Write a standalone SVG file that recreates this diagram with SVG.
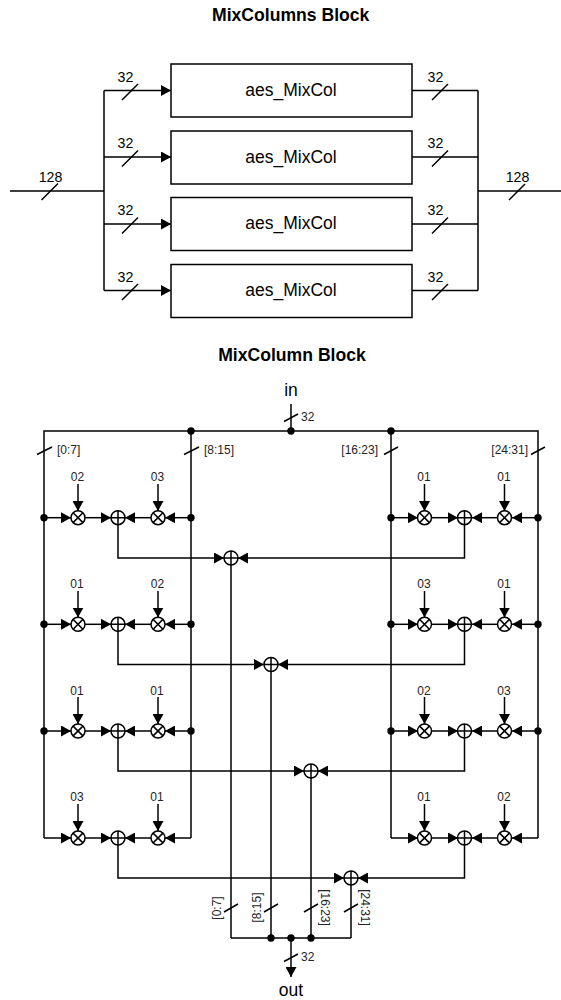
<svg xmlns="http://www.w3.org/2000/svg" width="561" height="1000" viewBox="0 0 561 1000">
<style>
text{font-family:"Liberation Sans",Arial,sans-serif;fill:#000;text-anchor:middle}
.t{font-weight:bold;font-size:17.6px}
.b{font-size:17.5px}
.w{font-size:14.2px}
.s{font-size:12px;fill:#222}
.e{text-anchor:end}
.st{text-anchor:start}
.l{fill:none;stroke:#000;stroke-width:1.5}
.a{marker-end:url(#h)}
.g{opacity:.99}
rect{fill:#fff;stroke:#000;stroke-width:1.5}
circle.j{fill:#000}
circle.o{fill:#fff;stroke:#000;stroke-width:1.5}
</style>
<defs>
<marker id="h" markerUnits="userSpaceOnUse" markerWidth="10" markerHeight="11" refX="10" refY="5.5" orient="auto"><path d="M0 0L10 5.5L0 11Z" fill="#000"/></marker>
<g id="mul"><circle class="o" r="7"/><path class="l" d="M-4.9-4.9L4.9 4.9M-4.9 4.9L4.9-4.9"/></g>
<g id="xor"><circle class="o" r="7"/><path class="l" d="M-7 0H7M0-7V7"/></g>
<g id="row"><path class="l a" d="M44 0H71"/><path class="l a" d="M85 0H111"/><path class="l a" d="M191 0H165"/><path class="l a" d="M151 0H125"/></g>
</defs>
<g class="g"><text class="t" x="290.700" y="20.500">MixColumns Block</text>
<text class="t" x="292" y="360.500">MixColumn Block</text></g>
<g id="connectors">
<path class="l" d="M10 191H104M104 90.500V290.500M478 90.500V290.500M412 90.500H478M412 157H478M412 224H478M412 290.500H478"/>
<path class="l a" d="M478 191H570.500"/>
<path class="l a" d="M104 90.500H171"/><path class="l a" d="M104 157H171"/><path class="l a" d="M104 224H171"/><path class="l a" d="M104 290.500H171"/>
<path class="l" d="M122 100L138 84M122 166.500L138 150.500M122 233.500L138 217.500M122 300L138 284M432 100L448 84M432 166.500L448 150.500M432 233.500L448 217.500M432 300L448 284M41.500 200L58 183.500M509 200L525 184"/>
<path class="l" d="M291 404V431M44 838V431H538V838M191 431V838M391 431V838"/>
<path class="l" d="M284 421.500L298 414M37 454.500L52 447M184 454.500L199 447M384 454.500L398 447M531 454.500L545 447"/>
<path class="l" d="M231 565V938M271 671.500V938M311 778V938M351 885V938M231 938H351"/>
<path class="l" d="M224 912L238 904M264 912L278 904M304 912L318 904M344 912L358 904M284 961.500L298 954"/>
<path class="l a" d="M291 938V977"/>
<path class="l a" d="M118 525V558H224"/><path class="l a" d="M464.500 525V558H238"/>
<path class="l a" d="M118 631V664.500H264"/><path class="l a" d="M464.500 631V664.500H278"/>
<path class="l a" d="M118 738V771H304"/><path class="l a" d="M464.500 738V771H318"/>
<path class="l a" d="M118 845V878H344"/><path class="l a" d="M464.500 845V878H358"/>
<use href="#row" y="517.700"/><use href="#row" y="624.300"/><use href="#row" y="731"/><use href="#row" y="838"/>
<use href="#row" x="347" y="517.700"/><use href="#row" x="347" y="624.300"/><use href="#row" x="347" y="731"/><use href="#row" x="347" y="838"/>
<path class="l a" d="M78 484V511"/><path class="l a" d="M158 484V511"/><path class="l a" d="M424.500 484V511"/><path class="l a" d="M504.500 484V511"/>
<path class="l a" d="M78 591V617.500"/><path class="l a" d="M158 591V617.500"/><path class="l a" d="M424.500 591V617.500"/><path class="l a" d="M504.500 591V617.500"/>
<path class="l a" d="M78 697V724"/><path class="l a" d="M158 697V724"/><path class="l a" d="M424.500 697V724"/><path class="l a" d="M504.500 697V724"/>
<path class="l a" d="M78 804V831"/><path class="l a" d="M158 804V831"/><path class="l a" d="M424.500 804V831"/><path class="l a" d="M504.500 804V831"/>
</g>
<g id="block1"><rect x="171" y="64" width="241" height="53"/><text class="b g" x="291" y="95.500">aes_MixCol</text></g>
<g id="block2"><rect x="171" y="131" width="241" height="53"/><text class="b g" x="291" y="162.500">aes_MixCol</text></g>
<g id="block3"><rect x="171" y="197.500" width="241" height="53"/><text class="b g" x="291" y="229">aes_MixCol</text></g>
<g id="block4"><rect x="171" y="264.500" width="241" height="53"/><text class="b g" x="291" y="296">aes_MixCol</text></g>
<g id="labels" class="g">
<text class="w" x="125.500" y="82">32</text><text class="w" x="125.500" y="148">32</text><text class="w" x="125.500" y="215">32</text><text class="w" x="125.500" y="282">32</text>
<text class="w" x="435.500" y="82">32</text><text class="w" x="435.500" y="148">32</text><text class="w" x="435.500" y="215">32</text><text class="w" x="435.500" y="282">32</text>
<text class="w" x="50.500" y="182">128</text><text class="w" x="517.500" y="182">128</text>
<text class="b" x="291" y="396">in</text><text class="b" x="291" y="995.500">out</text>
<text class="s st" x="301" y="421">32</text><text class="s st" x="301" y="961">32</text>
<text class="s st" x="57" y="454">[0:7]</text><text class="s st" x="204" y="454">[8:15]</text><text class="s e" x="378" y="454">[16:23]</text><text class="s e" x="528" y="454">[24:31]</text>
<text class="s" transform="translate(221 908) rotate(-90)">[0:7]</text>
<text class="s" transform="translate(261 907.500) rotate(-90)">[8:15]</text>
<text class="s" transform="translate(321 907.500) rotate(90)">[16:23]</text>
<text class="s" transform="translate(361 907.500) rotate(90)">[24:31]</text>
</g>
<g id="coef" class="g">
<text class="s" x="77.500" y="481">02</text><text class="s" x="157.500" y="481">03</text><text class="s" x="424" y="481">01</text><text class="s" x="504" y="481">01</text>
<text class="s" x="77" y="588">01</text><text class="s" x="157.500" y="588">02</text><text class="s" x="424" y="588">03</text><text class="s" x="504" y="588">01</text>
<text class="s" x="77" y="695">01</text><text class="s" x="157" y="695">01</text><text class="s" x="424" y="695">02</text><text class="s" x="504" y="695">03</text>
<text class="s" x="77" y="801">03</text><text class="s" x="157" y="801">01</text><text class="s" x="424" y="801">01</text><text class="s" x="504" y="801">02</text>
</g>
<g id="multipliers">
<use href="#mul" x="78" y="517.700"/><use href="#mul" x="158" y="517.700"/><use href="#mul" x="424.500" y="517.700"/><use href="#mul" x="504.500" y="517.700"/>
<use href="#mul" x="78" y="624.300"/><use href="#mul" x="158" y="624.300"/><use href="#mul" x="424.500" y="624.300"/><use href="#mul" x="504.500" y="624.300"/>
<use href="#mul" x="78" y="731"/><use href="#mul" x="158" y="731"/><use href="#mul" x="424.500" y="731"/><use href="#mul" x="504.500" y="731"/>
<use href="#mul" x="78" y="838"/><use href="#mul" x="158" y="838"/><use href="#mul" x="424.500" y="838"/><use href="#mul" x="504.500" y="838"/>
</g>
<g id="xors">
<use href="#xor" x="118" y="517.700"/><use href="#xor" x="464.500" y="517.700"/>
<use href="#xor" x="118" y="624.300"/><use href="#xor" x="464.500" y="624.300"/>
<use href="#xor" x="118" y="731"/><use href="#xor" x="464.500" y="731"/>
<use href="#xor" x="118" y="838"/><use href="#xor" x="464.500" y="838"/>
<use href="#xor" x="231" y="558"/><use href="#xor" x="271" y="664.500"/><use href="#xor" x="311" y="771"/><use href="#xor" x="351" y="878"/>
</g>
<g id="junctions">
<circle class="j" cx="191" cy="431" r="3.700"/><circle class="j" cx="291" cy="431" r="3.700"/><circle class="j" cx="391" cy="431" r="3.700"/>
<circle class="j" cx="44" cy="517.700" r="3.700"/><circle class="j" cx="191" cy="517.700" r="3.700"/><circle class="j" cx="391" cy="517.700" r="3.700"/><circle class="j" cx="538" cy="517.700" r="3.700"/>
<circle class="j" cx="44" cy="624.300" r="3.700"/><circle class="j" cx="191" cy="624.300" r="3.700"/><circle class="j" cx="391" cy="624.300" r="3.700"/><circle class="j" cx="538" cy="624.300" r="3.700"/>
<circle class="j" cx="44" cy="731" r="3.700"/><circle class="j" cx="191" cy="731" r="3.700"/><circle class="j" cx="391" cy="731" r="3.700"/><circle class="j" cx="538" cy="731" r="3.700"/>
<circle class="j" cx="271" cy="938" r="3.700"/><circle class="j" cx="291" cy="938" r="3.700"/><circle class="j" cx="311" cy="938" r="3.700"/>
</g>
</svg>
